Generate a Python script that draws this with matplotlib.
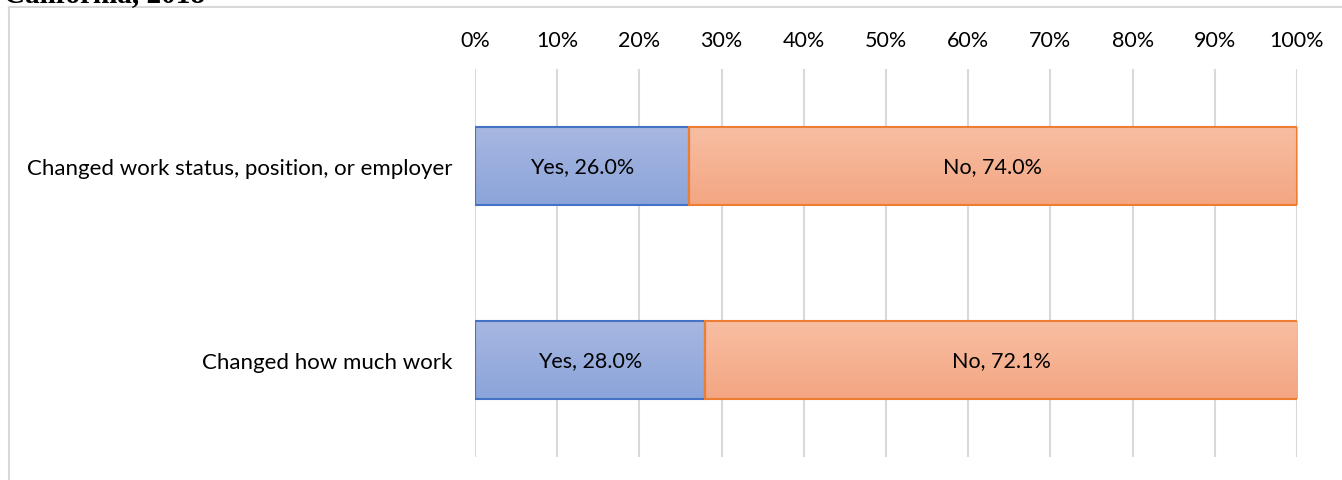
import numpy as np
import matplotlib.pyplot as plt
from matplotlib.patches import Rectangle
from matplotlib.colors import LinearSegmentedColormap

# data
categories = ["Changed work status, position, or employer", "Changed how much work"]
yes_vals = [26.0, 28.0]
no_vals = [74.0, 72.1]
xticks = np.arange(0, 101, 10)
xtick_labels = [f"{t}%" for t in xticks]

W, H = 1342, 481
fig = plt.figure(figsize=(W / 100, H / 100), dpi=100)
plt.rcParams['font.family'] = ['Lato', 'DejaVu Sans']

# chart frame (light grey border, cropped at right/bottom)
fig.add_artist(plt.Line2D([9 / W, 9 / W], [0, 1 - 8 / H], color='#d9d9d9', lw=1.5))
fig.add_artist(plt.Line2D([9 / W, 1], [1 - 8 / H, 1 - 8 / H], color='#d9d9d9', lw=1.5))

# title, mostly cut off at the top like the original
fig.text(4 / W, 1 - 2 / H, "California, 2018", family='Liberation Serif',
         fontsize=21, fontweight='bold', va='baseline', ha='left')

ax = fig.add_axes([475 / W, 1 - 458 / H, (1297 - 475) / W, (458 - 70) / H])

y = np.arange(len(categories))
bar_h = 0.4

blue_cmap = LinearSegmentedColormap.from_list('b', ['#a7b7e1', '#8ba4da'])
orange_cmap = LinearSegmentedColormap.from_list('o', ['#f7bea2', '#f4a682'])
grad = np.linspace(0, 1, 64).reshape(-1, 1)

def grad_bar(x0, width, yc, cmap, edge):
    rect = Rectangle((x0, yc - bar_h / 2), width, bar_h, facecolor='none',
                     edgecolor=edge, lw=1.5, zorder=3)
    ax.add_patch(rect)
    im = ax.imshow(grad, cmap=cmap, aspect='auto', zorder=2,
                   extent=(x0, x0 + width, yc + bar_h / 2, yc - bar_h / 2))
    im.set_clip_path(rect)

for i, yc in enumerate(y):
    grad_bar(0, yes_vals[i], yc, blue_cmap, '#4472c4')
    grad_bar(yes_vals[i], no_vals[i], yc, orange_cmap, '#ed7d31')
    ax.text(yes_vals[i] / 2, yc, f"Yes, {yes_vals[i]:.1f}%", ha='center', va='center',
            fontsize=15.5, color='black', zorder=4)
    ax.text(yes_vals[i] + no_vals[i] / 2, yc, f"No, {no_vals[i]:.1f}%", ha='center',
            va='center', fontsize=15.5, color='black', zorder=4)

ax.set_xlim(0, 100)
ax.set_ylim(1.5, -0.5)
ax.set_xticks(xticks)
ax.set_xticklabels(xtick_labels, fontsize=15.5)
ax.xaxis.tick_top()
ax.tick_params(axis='x', length=0, pad=14)
ax.set_yticks(y)
ax.set_yticklabels(categories, fontsize=16)
ax.tick_params(axis='y', length=0, pad=16)
ax.grid(axis='x', color='#d9d9d9', lw=1.5, zorder=0)
ax.set_axisbelow(True)
for s in ax.spines.values():
    s.set_visible(False)

fig.savefig("out.png", dpi=100)
